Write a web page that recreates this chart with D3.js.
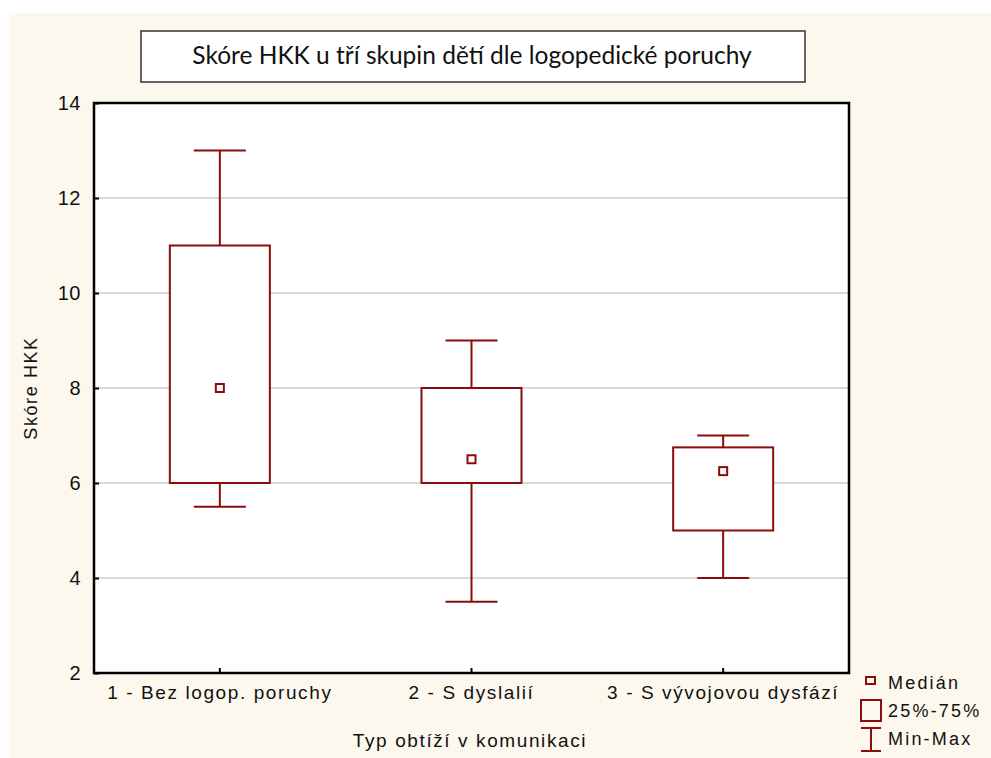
<!DOCTYPE html>
<html lang="cs">
<head>
<meta charset="UTF-8">
<script src="https://d3js.org/d3.v7.min.js"></script>
<style>
  body { margin:0; background:#fff; }
  svg text { font-family: "Liberation Sans", Arial, sans-serif; fill:#111; }
  .title { font-family: Lato, "Open Sans", sans-serif; }
  .grid line { stroke:#d9d9d9; stroke-width:2; }
</style>
</head>
<body>
<svg id="chart" width="991" height="758"></svg>
<script>
// data
const groups = ["1 - Bez logop. poruchy", "2 - S dyslalií", "3 - S vývojovou dysfází"];
const minVals = [5.5, 3.5, 4];
const q1Vals = [6, 6, 5];
const medVals = [8, 6.5, 6.25];
const q3Vals = [11, 8, 6.75];
const maxVals = [13, 9, 7];
const yTicks = [2, 4, 6, 8, 10, 12, 14];

const boxColor = "#8b0c0c";

let svg = d3.select("#chart");
// cream panel
svg.append("rect").attr("x", 9).attr("y", 13).attr("width", 982).attr("height", 745).style("fill", "#fdf8ee");

let margin = {left:94, top:103, right:849, bottom:673};
let x = d3.scaleBand().domain(groups).range([margin.left, margin.right]);
let y = d3.scaleLinear().domain([2, 14]).range([margin.bottom, margin.top]);

svg.append("rect")
  .attr("x", margin.left).attr("y", margin.top)
  .attr("width", margin.right - margin.left).attr("height", margin.bottom - margin.top)
  .style("fill", "#fff");

// gridlines
svg.append("g").attr("class", "grid")
  .selectAll("line").data(yTicks.slice(1, -1)).enter().append("line")
  .attr("x1", margin.left).attr("x2", margin.right)
  .attr("y1", d => y(d)).attr("y2", d => y(d));

// axes
let yAxis = d3.axisLeft(y).tickValues(yTicks).tickSize(-5).tickPadding(13);
let gy = svg.append("g").attr("transform", "translate(" + margin.left + ",0)").call(yAxis);
gy.select(".domain").remove();
gy.selectAll("line").style("stroke", "#000").style("stroke-width", 2);
gy.selectAll("text").style("font-size", "20px").style("letter-spacing", "0.5px").style("fill", "#111");

let xAxis = d3.axisBottom(x).tickSize(-5).tickPadding(13);
let gx = svg.append("g").attr("transform", "translate(0," + margin.bottom + ")").call(xAxis);
gx.select(".domain").remove();
gx.selectAll("line").style("stroke", "#000").style("stroke-width", 2);
gx.selectAll("text").style("font-size", "19px").style("letter-spacing", "1.6px").style("fill", "#111");

// plot frame
svg.append("rect")
  .attr("x", margin.left).attr("y", margin.top)
  .attr("width", margin.right - margin.left).attr("height", margin.bottom - margin.top)
  .style("fill", "none").style("stroke", "#000").style("stroke-width", 2.5);

// boxes
let boxW = 100, capW = 52, medS = 8;
groups.forEach(function(g, i) {
  let cx = x(g) + x.bandwidth() / 2;
  let grp = svg.append("g").style("stroke", boxColor).style("stroke-width", 2).style("fill", "none");
  grp.append("line").attr("x1", cx).attr("x2", cx).attr("y1", y(maxVals[i])).attr("y2", y(q3Vals[i]));
  grp.append("line").attr("x1", cx).attr("x2", cx).attr("y1", y(q1Vals[i])).attr("y2", y(minVals[i]));
  grp.append("line").attr("x1", cx - capW/2).attr("x2", cx + capW/2).attr("y1", y(maxVals[i])).attr("y2", y(maxVals[i]));
  grp.append("line").attr("x1", cx - capW/2).attr("x2", cx + capW/2).attr("y1", y(minVals[i])).attr("y2", y(minVals[i]));
  grp.append("rect").attr("x", cx - boxW/2).attr("y", y(q3Vals[i]))
    .attr("width", boxW).attr("height", y(q1Vals[i]) - y(q3Vals[i])).style("fill", "#fff");
  grp.append("rect").attr("x", cx - medS/2).attr("y", y(medVals[i]) - medS/2)
    .attr("width", medS).attr("height", medS).style("fill", "#fff");
});

// axis titles
svg.append("text").attr("x", 470).attr("y", 747).attr("text-anchor", "middle")
  .style("font-size", "19px").style("letter-spacing", "1.6px").text("Typ obtíží v komunikaci");
svg.append("text").attr("transform", "translate(37,388) rotate(-90)").attr("text-anchor", "middle")
  .style("font-size", "18px").style("letter-spacing", "1.6px").text("Skóre HKK");

// title box
svg.append("rect").attr("x", 141).attr("y", 31).attr("width", 664).attr("height", 51)
  .style("fill", "#fff").style("stroke", "#333").style("stroke-width", 1.5);
svg.append("text").attr("class", "title").attr("x", 472).attr("y", 64).attr("text-anchor", "middle")
  .style("font-size", "24.5px").text("Skóre HKK u tří skupin dětí dle logopedické poruchy");

// legend
let leg = svg.append("g").style("stroke", boxColor).style("stroke-width", 2).style("fill", "none");
leg.append("rect").attr("x", 866).attr("y", 677).attr("width", 9).attr("height", 7);
leg.append("rect").attr("x", 861).attr("y", 700).attr("width", 20).attr("height", 21);
leg.append("line").attr("x1", 861).attr("x2", 881).attr("y1", 728).attr("y2", 728);
leg.append("line").attr("x1", 861).attr("x2", 881).attr("y1", 751).attr("y2", 751);
leg.append("line").attr("x1", 871).attr("x2", 871).attr("y1", 728).attr("y2", 751);
let legTexts = ["Medián", "25%-75%", "Min-Max"];
svg.selectAll(".legtext").data(legTexts).enter().append("text")
  .attr("class", "legtext")
  .attr("x", 888).attr("y", (d, i) => 689 + i * 28)
  .style("font-size", "18px").style("letter-spacing", "2.2px").text(d => d);
</script>
</body>
</html>
